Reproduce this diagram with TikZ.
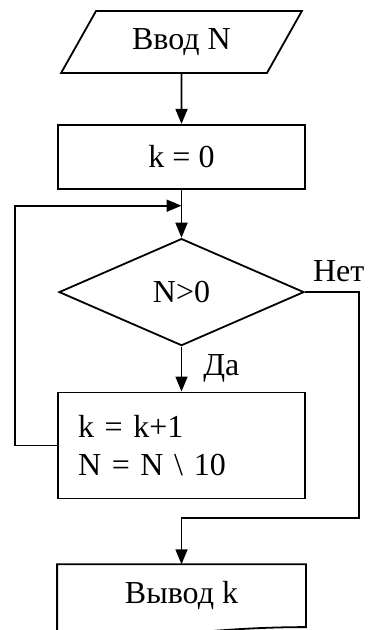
\documentclass[tikz,border=0pt]{standalone}
\usepackage{fontspec}
\setmainfont{Liberation Serif}
\usetikzlibrary{arrows.meta, positioning, shapes.geometric}
\tikzset{
  box/.style={
    draw=black,
    line width=1.8pt,
    minimum width=247pt,
    minimum height=64pt,
    inner sep=0pt,
    font=\fontsize{32}{38}\selectfont
  },
  iobox/.style={
    box,
    trapezium,
    trapezium left angle=53.4,
    trapezium right angle=126.6,
    trapezium stretches=true,
    minimum width=241pt,
    minimum height=62pt
  },
  decision/.style={
    box,
    diamond,
    minimum width=245pt,
    minimum height=107pt
  },
  bodybox/.style={
    box,
    align=left,
    text width=207pt,
    inner xsep=20pt,
    minimum height=106pt
  },
  docbox/.style={
    box,
    draw=none,
    minimum height=61pt
  },
  arrow/.style={
    -{Triangle[length=15pt, width=12pt]},
    line width=1.8pt
  },
  plain/.style={
    line width=1.8pt
  },
  lbl/.style={
    inner sep=0pt,
    font=\fontsize{32}{38}\selectfont
  }
}

\begin{document}
\begin{tikzpicture}[x=1pt, y=1pt]
\clip (0,0) rectangle (371,-630);

\node[iobox] (inputN) at (181.5,-42) {Ввод N};
\node[box, below=50pt of inputN] (init) {k = 0};
\node[decision, below=48pt of init] (check) {N>0};
\node[bodybox, below=45pt of check] (body) {k = k+1\\N = N \textbackslash{} 10};
\node[docbox, below=65pt of body] (output) {Вывод k};

\coordinate (join) at ([yshift=-16pt]init.south);
\coordinate (merge) at ([yshift=-19pt]body.south);

\node[lbl, anchor=base west] (no) at ([shift={(8pt,11pt)}]check.east) {Нет};

% output sheet with wavy bottom
\draw[plain] (output.north west) -- (output.north east) -- (output.south east)
  .. controls +(-60,0) and +(60,6) .. ++(-170,-11)
  .. controls +(-30,-4) and +(30,0) .. ([yshift=-22pt]output.south west) -- cycle;

\draw[arrow] (inputN) -- (init);
\draw[arrow] (init) -- (check);
\draw[arrow] (check) -- node[lbl, anchor=base west, xshift=21pt, yshift=-6pt] (yes) {Да} (body);
\draw[arrow] (body.west) -- ++(-42,0) |- (join);
\draw[arrow] (check.east) -- ++(54,0) |- (merge) -- (output);

\end{tikzpicture}
\end{document}
